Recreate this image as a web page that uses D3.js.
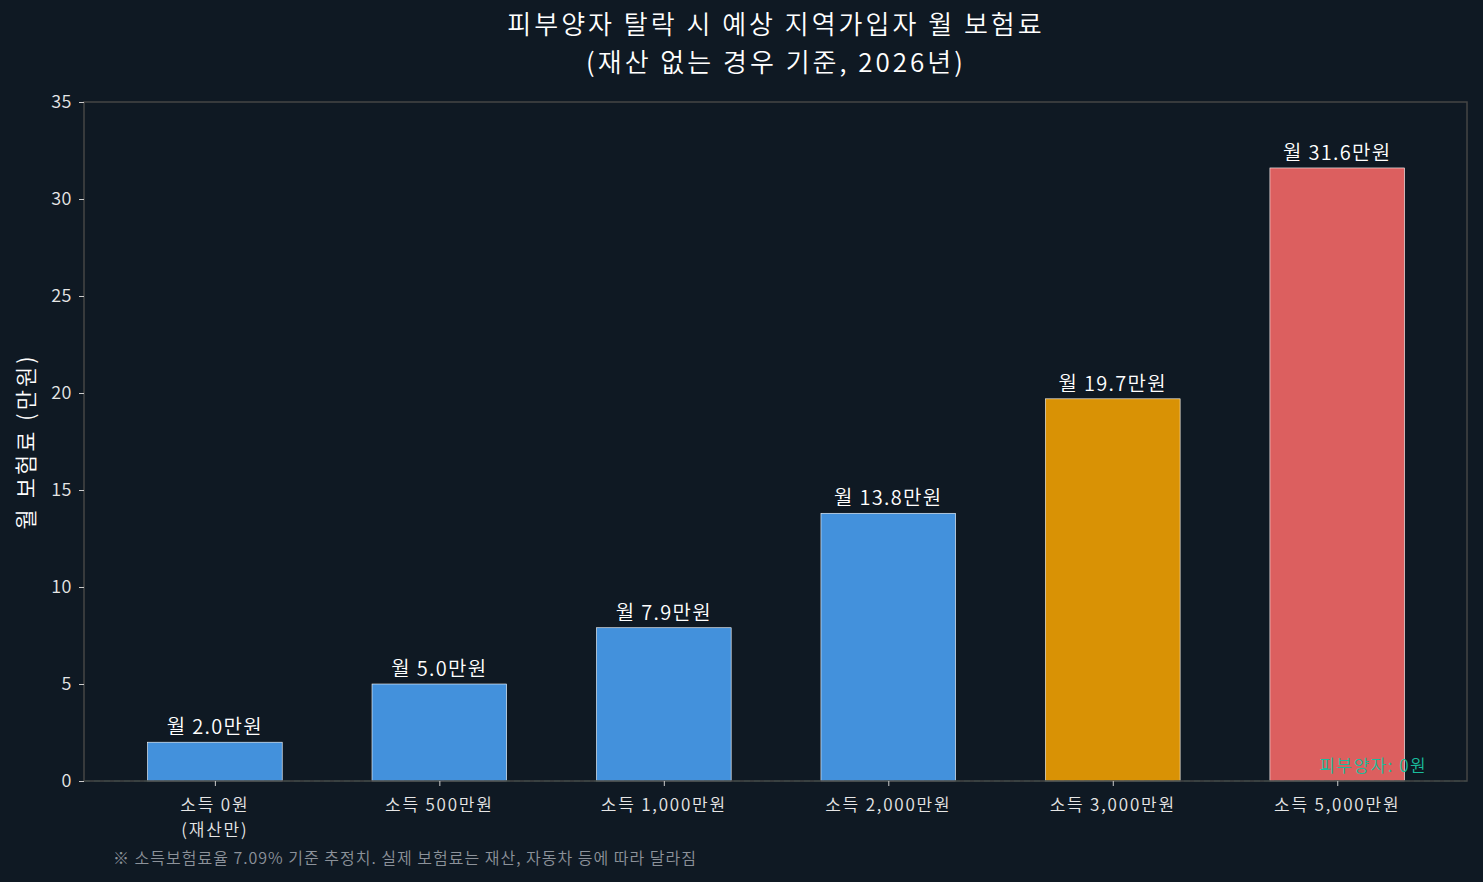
<!DOCTYPE html>
<html>
<head>
<meta charset="utf-8">
<script src="https://cdn.jsdelivr.net/npm/d3@7"></script>
<style>
  body { margin: 0; background: #0f1923; }
  text { font-family: "Noto Sans CJK KR", "Noto Sans", sans-serif; font-weight: 350; }
</style>
</head>
<body>
<div id="chart"></div>
<script>
// 데이터
const categories = ["소득 0원\n(재산만)", "소득 500만원", "소득 1,000만원", "소득 2,000만원", "소득 3,000만원", "소득 5,000만원"];
const premiums = [2.0, 5.0, 7.9, 13.8, 19.7, 31.6];
const barColors = ["#4391dc", "#4391dc", "#4391dc", "#4391dc", "#d99205", "#dc5f5f"];
const yTicks = [0, 5, 10, 15, 20, 25, 30, 35];

const width = 1483, height = 882;
const margin = { left: 84, right: 16, top: 102, bottom: 101 };

const svg = d3.select("#chart").append("svg")
    .attr("width", width)
    .attr("height", height);

svg.append("rect").attr("width", width).attr("height", height).attr("fill", "#0f1923");

const x = d3.scaleLinear()
    .domain([-0.583, categories.length - 1 + 0.578])
    .range([margin.left, width - margin.right]);

const y = d3.scaleLinear()
    .domain([0, 35])
    .range([height - margin.bottom, margin.top]);

const barW = x(0.6) - x(0);

// 막대
svg.selectAll("rect.bar")
    .data(premiums)
    .enter().append("rect")
    .attr("class", "bar")
    .attr("x", (d, i) => x(i) - barW / 2)
    .attr("y", d => y(d))
    .attr("width", barW)
    .attr("height", d => y(0) - y(d))
    .attr("fill", (d, i) => barColors[i])
    .attr("stroke", "#ffffff")
    .attr("stroke-width", 0.6);

// 0 기준 점선
svg.append("line")
    .attr("x1", margin.left).attr("x2", width - margin.right)
    .attr("y1", y(0)).attr("y2", y(0))
    .attr("stroke", "#2e8b74")
    .attr("stroke-opacity", 0.5)
    .attr("stroke-dasharray", "6,4")
    .attr("stroke-width", 1.2);

// 테두리
svg.append("rect")
    .attr("x", margin.left).attr("y", margin.top)
    .attr("width", width - margin.left - margin.right)
    .attr("height", height - margin.top - margin.bottom)
    .attr("fill", "none")
    .attr("stroke", "#454545")
    .attr("stroke-width", 1.5);

// y축
const yAxis = svg.append("g")
    .attr("transform", `translate(${margin.left},0)`)
    .call(d3.axisLeft(y).tickValues(yTicks).tickSize(5).tickPadding(7));
yAxis.select(".domain").remove();
yAxis.selectAll("line").attr("stroke", "#cccccc");
yAxis.selectAll("text").attr("fill", "#e6e6e6").attr("font-size", 18)
    .attr("letter-spacing", 0.5)
    .attr("font-family", "'Noto Sans CJK KR', sans-serif");

// x축
const xAxis = svg.append("g")
    .attr("transform", `translate(0,${y(0)})`)
    .call(d3.axisBottom(x).tickValues(d3.range(categories.length)).tickSize(5).tickFormat(""));
xAxis.select(".domain").remove();
xAxis.selectAll("line").attr("stroke", "#cccccc");

categories.forEach((c, i) => {
    const t = svg.append("text")
        .attr("x", x(i))
        .attr("y", y(0) + 30)
        .attr("text-anchor", "middle")
        .attr("fill", "#e6e6e6")
        .attr("font-size", 17)
        .attr("letter-spacing", 1.8);
    c.split("\n").forEach((line, k) => {
        t.append("tspan").attr("x", x(i)).attr("dy", k === 0 ? 0 : 25).text(line);
    });
});

// 값 레이블
svg.selectAll("text.val")
    .data(premiums)
    .enter().append("text")
    .attr("class", "val")
    .attr("x", (d, i) => x(i))
    .attr("y", d => y(d) - 8)
    .attr("text-anchor", "middle")
    .attr("fill", "#ffffff")
    .attr("font-size", 20)
    .attr("letter-spacing", 1.3)
    .text(d => `월 ${d.toFixed(1)}만원`);

// 피부양자 주석
svg.append("text")
    .attr("x", x(5.16))
    .attr("y", y(0) - 9)
    .attr("text-anchor", "middle")
    .attr("fill", "#1abc9c")
    .attr("font-size", 17)
    .attr("letter-spacing", 1.5)
    .text("피부양자: 0원");

// 제목
const title = svg.append("text")
    .attr("x", 776)
    .attr("y", 34)
    .attr("text-anchor", "middle")
    .attr("fill", "#ffffff")
    .attr("font-size", 26)
    .attr("letter-spacing", 3);
title.append("tspan").attr("x", 776).text("피부양자 탈락 시 예상 지역가입자 월 보험료");
title.append("tspan").attr("x", 776).attr("dy", 38).text("(재산 없는 경우 기준, 2026년)");

// y축 제목
svg.append("text")
    .attr("transform", `translate(34,${(margin.top + y(0)) / 2}) rotate(-90)`)
    .attr("text-anchor", "middle")
    .attr("fill", "#ffffff")
    .attr("font-size", 22)
    .attr("letter-spacing", 3)
    .text("월 보험료 (만원)");

// 각주
svg.append("text")
    .attr("x", 113)
    .attr("y", 864)
    .attr("fill", "#8c929a")
    .attr("font-size", 16)
    .attr("letter-spacing", 1.0)
    .text("※ 소득보험료율 7.09% 기준 추정치. 실제 보험료는 재산, 자동차 등에 따라 달라짐");
</script>
</body>
</html>
